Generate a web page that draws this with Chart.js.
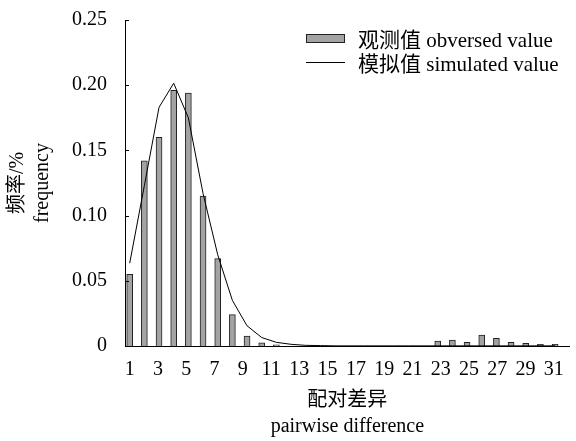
<!DOCTYPE html>
<html>
<head>
<meta charset="utf-8">
<script src="https://cdn.jsdelivr.net/npm/chart.js@4/dist/chart.umd.min.js"></script>
<style>
  html, body { margin: 0; padding: 0; background: #fff; }
  #wrap { position: relative; width: 576px; height: 441px; }
  #legend {
    position: absolute; left: 306px; top: 26px;
    font: 21px "Liberation Serif", "Noto Sans CJK SC", serif; color: #000;
  }
  #legend .row { display: flex; align-items: center; height: 24px; white-space: nowrap; }
  #legend .sw { width: 39px; margin-right: 13px; box-sizing: border-box; }
  #legend .box { height: 9px; background: #a3a3a3; border: 1px solid #222; }
  #legend .ln { height: 0; border-top: 1px solid #000; }
</style>
</head>
<body>
<div id="wrap">
  <canvas id="c" width="576" height="441"></canvas>
  <div id="legend">
    <div class="row"><span class="sw box"></span>观测值 obversed value</div>
    <div class="row"><span class="sw ln"></span>模拟值 simulated value</div>
  </div>
</div>
<script>
// 配对差异分布: 观测值(柱) + 模拟值(线)
const PAIRWISE = [1, 2, 3, 4, 5, 6, 7, 8, 9, 10, 11, 12, 13, 14, 15,
  16, 17, 18, 19, 20, 21, 22, 23, 24, 25, 26, 27, 28, 29, 30];
const OBSERVED = [0.055, 0.142, 0.160, 0.196, 0.194, 0.115, 0.067, 0.024, 0.0076, 0.0025,
  0.0009, 0, 0, 0, 0, 0, 0, 0, 0, 0,
  0, 0.0038, 0.0046, 0.0028, 0.0084, 0.0059, 0.0028, 0.002, 0.0013, 0.0013];
const SIMULATED = [0.0635, 0.123, 0.183, 0.2015, 0.175, 0.117, 0.070, 0.035, 0.0155, 0.0065,
  0.0028, 0.0013, 0.0005, 0.0003, 0.0001, 0.0001, 0.0001, 0.0001, 0.0001, 0.0001,
  0.0001, 0.0001, 0.0001, 0.0001, 0.0001, 0.0001, 0.0001, 0.0001, 0.0001, 0.0001];
const X_TICKS = [1, 3, 5, 7, 9, 11, 13, 15, 17, 19, 21, 23, 25, 27, 29, 31];
const Y_TICKS = [0, 0.05, 0.10, 0.15, 0.20, 0.25];
const Y_TICK_LABELS = ["0", "0.05", "0.10", "0.15", "0.20", "0.25"];

const FONT = '"Liberation Serif", "Noto Sans CJK SC", serif';
Chart.defaults.font.family = FONT;
Chart.defaults.font.size = 20;
Chart.defaults.color = "#000";

// y 轴刻度朝内
const inwardTicks = {
  id: "inwardTicks",
  afterDatasetsDraw(chart) {
    const y = chart.scales.y, ctx = chart.ctx;
    ctx.save();
    ctx.strokeStyle = "#000";
    ctx.lineWidth = 1;
    y.ticks.forEach((t) => {
      const py = Math.round(y.getPixelForValue(t.value)) + 0.5;
      ctx.beginPath();
      ctx.moveTo(y.right, py);
      ctx.lineTo(y.right + 4, py);
      ctx.stroke();
    });
    ctx.restore();
  },
};

new Chart(document.getElementById("c"), {
  type: "bar",
  data: {
    datasets: [
      {
        type: "line",
        data: PAIRWISE.map((p, i) => ({ x: p, y: SIMULATED[i] })),
        borderColor: "#000",
        borderWidth: 1,
        pointRadius: 0,
        tension: 0,
        fill: false,
        xAxisID: "x",
      },
      {
        data: PAIRWISE.map((p, i) => ({ x: p, y: OBSERVED[i] })),
        backgroundColor: "#a3a3a3",
        borderColor: "#222",
        borderWidth: 1,
        barThickness: 6,
        xAxisID: "x",
      },
    ],
  },
  options: {
    responsive: false,
    animation: false,
    devicePixelRatio: 1,
    layout: { padding: { left: 0, top: 20, right: 6, bottom: 0 } },
    plugins: { legend: { display: false }, tooltip: { enabled: false } },
    scales: {
      x: { type: "linear", min: 0.68, max: 31, offset: false, display: false },
      xt: {
        type: "linear", axis: "x", position: "bottom", offset: false,
        min: 0.667, max: 32.13,
        afterBuildTicks: (s) => { s.ticks = X_TICKS.map((v) => ({ value: v })); },
        afterFit: (s) => { s.height = 95; },
        grid: { display: false, drawTicks: false },
        border: { color: "#000", width: 1 },
        ticks: { padding: 12, autoSkip: false, maxRotation: 0 },
        title: {
          display: true,
          text: ["配对差异", "pairwise difference"],
          font: { size: 20, lineHeight: 1.3 },
          padding: { top: 0, bottom: 1 },
        },
      },
      y: {
        min: 0, max: 0.25,
        afterBuildTicks: (s) => { s.ticks = Y_TICKS.map((v) => ({ value: v })); },
        afterFit: (s) => { s.width = 125; s.paddingTop = 0; s.paddingBottom = 0; },
        grid: { display: false, drawTicks: false },
        border: { color: "#000", width: 1 },
        ticks: { padding: 18, callback: (v, i) => Y_TICK_LABELS[i] },
        title: {
          display: true,
          text: ["频率/%", "frequency"],
          font: { size: 20, lineHeight: 1.25 },
          padding: { top: 5, bottom: 0 },
        },
      },
    },
  },
  plugins: [inwardTicks],
});
</script>
</body>
</html>
